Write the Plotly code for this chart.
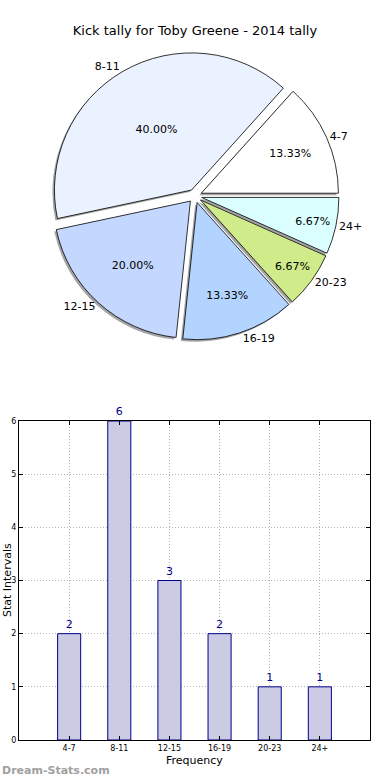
import plotly.graph_objects as go

categories = ["4-7", "8-11", "12-15", "16-19", "20-23", "24+"]
counts = [2, 6, 3, 2, 1, 1]
pie_colors = ["#ffffff", "#eaf1ff", "#c4d7ff", "#b3d4ff", "#cfeb8a", "#dbffff"]
pulls = [0.05, 0.05, 0.05, 0.05, 0.05, 0.05]
y_ticks = [0, 1, 2, 3, 4, 5, 6]

W, H = 390, 780
FONT = "DejaVu Sans"

def px_x(a, b):
    return [a / W, b / W]

def px_y(top, bottom):
    return [1 - bottom / H, 1 - top / H]

cx, cy, half = 195, 196, 144
dom_x = px_x(cx - half, cx + half)
dom_y = px_y(cy - half, cy + half)
sh_x = px_x(cx - half - 2, cx + half - 2)
sh_y = px_y(cy - half + 2, cy + half + 2)

ROT = 42

fig = go.Figure()

# shadow
fig.add_trace(go.Pie(
    labels=categories, values=counts, sort=False, direction="counterclockwise",
    rotation=ROT, pull=pulls, domain=dict(x=sh_x, y=sh_y),
    marker=dict(colors=["rgba(90,90,90,0.55)"] * 6, line=dict(width=0)),
    textinfo="none", hoverinfo="skip", showlegend=False,
))
# main pie with percentages
fig.add_trace(go.Pie(
    labels=categories, values=counts, sort=False, direction="counterclockwise",
    rotation=ROT, pull=pulls, domain=dict(x=dom_x, y=dom_y),
    marker=dict(colors=pie_colors, line=dict(color="#000000", width=0.8)),
    texttemplate="%{percent:.2%}", textposition="inside",
    insidetextorientation="horizontal",
    textfont=dict(family=FONT, size=11, color="#000000"),
    showlegend=False,
))
# outside labels
fig.add_trace(go.Pie(
    labels=categories, values=counts, sort=False, direction="counterclockwise",
    rotation=ROT, pull=pulls, domain=dict(x=dom_x, y=dom_y),
    marker=dict(colors=["rgba(0,0,0,0)"] * 6, line=dict(width=0)),
    texttemplate="%{label}", textposition="outside",
    outsidetextfont=dict(family=FONT, size=11, color="#000000"),
    hoverinfo="skip", showlegend=False,
))

fig.add_trace(go.Bar(
    x=categories, y=counts, width=0.46,
    marker=dict(color="#cbcbe3", line=dict(color="#00008b", width=1)),
    text=[str(c) for c in counts], textposition="outside",
    textfont=dict(family=FONT, size=11, color="#00008b"),
    cliponaxis=False, xaxis="x", yaxis="y", showlegend=False,
))

grid = dict(showgrid=True, gridcolor="#b4b4b4", griddash="1px,2px", gridwidth=1)

fig.update_layout(
    width=W, height=H, margin=dict(l=0, r=0, t=0, b=0),
    paper_bgcolor="#ffffff", plot_bgcolor="#ffffff",
    font=dict(family=FONT, size=11, color="#000000"),
    title=dict(text="Kick tally for Toby Greene - 2014 tally", x=0.5, xanchor="center",
               y=1 - 30 / H, yanchor="middle", font=dict(family=FONT, size=13)),
    xaxis=dict(domain=px_x(19, 370), range=[-1, 6], type="category",
               showline=True, linecolor="#000000", linewidth=1, mirror="ticks",
               ticks="inside", ticklen=4, tickcolor="#000000",
               tickfont=dict(family=FONT, size=8), zeroline=False, automargin=False, **grid),
    yaxis=dict(domain=px_y(421, 740), range=[0, 6], tickvals=y_ticks,
               showline=True, linecolor="#000000", linewidth=1, mirror="ticks",
               ticks="inside", ticklen=4, tickcolor="#000000",
               tickfont=dict(family=FONT, size=8), zeroline=False, automargin=False, **grid),
    annotations=[
        dict(text="Frequency", x=(19 + 370) / 2 / W, y=1 - 760 / H, xref="paper", yref="paper",
             showarrow=False, font=dict(family=FONT, size=11), xanchor="center", yanchor="middle"),
        dict(text="Stat Intervals", x=7 / W, y=1 - 580 / H, xref="paper", yref="paper",
             showarrow=False, textangle=-90, font=dict(family=FONT, size=11),
             xanchor="center", yanchor="middle"),
        dict(text="<b>Dream-Stats.com</b>", x=0, y=1 - 770 / H, xref="paper", yref="paper",
             showarrow=False, font=dict(family=FONT, size=11, color="#a0a0a0"),
             xanchor="left", yanchor="middle"),
    ],
)

fig.write_html("out.html", post_script="document.body.style.margin='0px';",
               config={"displayModeBar": False})
